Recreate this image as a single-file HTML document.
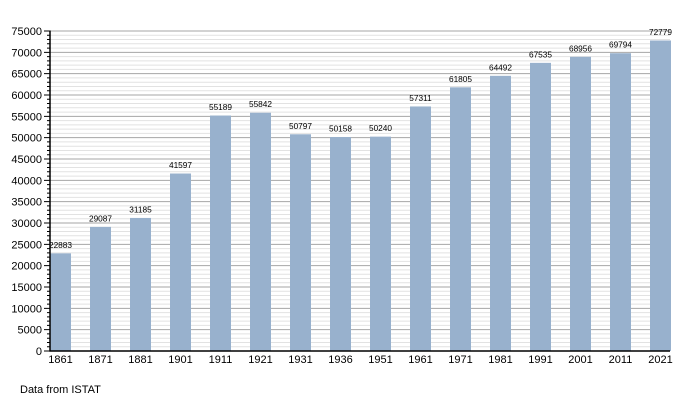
<!DOCTYPE html>
<html>
<head>
<meta charset="utf-8">
<style>
html,body{margin:0;padding:0;background:#fff;}
svg{display:block;}
text{font-family:"Liberation Sans",Arial,sans-serif;fill:#000;}
</style>
</head>
<body>
<svg width="700" height="400" viewBox="0 0 700 400" xmlns="http://www.w3.org/2000/svg">
<!-- minor gridlines -->
<path stroke="#e2e2e2" stroke-width="1" fill="none" d="
M50 346.733H670 M50 342.467H670 M50 338.2H670 M50 333.933H670
M50 325.4H670 M50 321.133H670 M50 316.867H670 M50 312.6H670
M50 304.067H670 M50 299.8H670 M50 295.533H670 M50 291.267H670
M50 282.733H670 M50 278.467H670 M50 274.2H670 M50 269.933H670
M50 261.4H670 M50 257.133H670 M50 252.867H670 M50 248.6H670
M50 240.067H670 M50 235.8H670 M50 231.533H670 M50 227.267H670
M50 218.733H670 M50 214.467H670 M50 210.2H670 M50 205.933H670
M50 197.4H670 M50 193.133H670 M50 188.867H670 M50 184.6H670
M50 176.067H670 M50 171.8H670 M50 167.533H670 M50 163.267H670
M50 154.733H670 M50 150.467H670 M50 146.2H670 M50 141.933H670
M50 133.4H670 M50 129.133H670 M50 124.867H670 M50 120.6H670
M50 112.067H670 M50 107.8H670 M50 103.533H670 M50 99.267H670
M50 90.733H670 M50 86.467H670 M50 82.2H670 M50 77.933H670
M50 69.4H670 M50 65.133H670 M50 60.867H670 M50 56.6H670
M50 48.067H670 M50 43.8H670 M50 39.533H670 M50 35.267H670"/>
<!-- major gridlines -->
<path stroke="#a6a6a6" stroke-width="1" fill="none" d="
M50 329.667H670 M50 308.333H670 M50 287H670 M50 265.667H670 M50 244.333H670
M50 223H670 M50 201.667H670 M50 180.333H670 M50 159H670 M50 137.667H670
M50 116.333H670 M50 95H670 M50 73.667H670 M50 52.333H670 M50 31H670"/>

<!-- bars -->
<g fill="#98b1cd">
<rect x="50" y="253.37" width="21" height="97.63"/>
<rect x="90" y="226.90" width="21" height="124.10"/>
<rect x="130" y="217.94" width="21" height="133.06"/>
<rect x="170" y="173.52" width="21" height="177.48"/>
<rect x="210" y="115.53" width="21" height="235.47"/>
<rect x="250" y="112.74" width="21" height="238.26"/>
<rect x="290" y="134.27" width="21" height="216.73"/>
<rect x="330" y="136.99" width="21" height="214.01"/>
<rect x="370" y="136.64" width="21" height="214.36"/>
<rect x="410" y="106.47" width="21" height="244.53"/>
<rect x="450" y="87.30" width="21" height="263.70"/>
<rect x="490" y="75.83" width="21" height="275.17"/>
<rect x="530" y="62.85" width="21" height="288.15"/>
<rect x="570" y="56.79" width="21" height="294.21"/>
<rect x="610" y="53.21" width="21" height="297.79"/>
<rect x="650" y="40.48" width="21" height="310.52"/>
</g>

<!-- value labels -->
<g font-size="8.3" text-anchor="middle">
<text x="60.5" y="247.9">22883</text>
<text x="100.5" y="221.4">29087</text>
<text x="140.5" y="212.4">31185</text>
<text x="180.5" y="168.0">41597</text>
<text x="220.5" y="110.0">55189</text>
<text x="260.5" y="107.2">55842</text>
<text x="300.5" y="128.8">50797</text>
<text x="340.5" y="131.5">50158</text>
<text x="380.5" y="131.1">50240</text>
<text x="420.5" y="101.0">57311</text>
<text x="460.5" y="81.8">61805</text>
<text x="500.5" y="70.3">64492</text>
<text x="540.5" y="57.4">67535</text>
<text x="580.5" y="51.3">68956</text>
<text x="620.5" y="47.7">69794</text>
<text x="660.5" y="35.0">72779</text>
</g>

<!-- axes -->
<path stroke="#000" stroke-width="1.5" fill="none" d="M50 30.5V351.5 M49.3 351H670"/>
<!-- minor ticks -->
<path stroke="#000" stroke-width="1" fill="none" d="
M47 346.733H50 M47 342.467H50 M47 338.2H50 M47 333.933H50
M47 325.4H50 M47 321.133H50 M47 316.867H50 M47 312.6H50
M47 304.067H50 M47 299.8H50 M47 295.533H50 M47 291.267H50
M47 282.733H50 M47 278.467H50 M47 274.2H50 M47 269.933H50
M47 261.4H50 M47 257.133H50 M47 252.867H50 M47 248.6H50
M47 240.067H50 M47 235.8H50 M47 231.533H50 M47 227.267H50
M47 218.733H50 M47 214.467H50 M47 210.2H50 M47 205.933H50
M47 197.4H50 M47 193.133H50 M47 188.867H50 M47 184.6H50
M47 176.067H50 M47 171.8H50 M47 167.533H50 M47 163.267H50
M47 154.733H50 M47 150.467H50 M47 146.2H50 M47 141.933H50
M47 133.4H50 M47 129.133H50 M47 124.867H50 M47 120.6H50
M47 112.067H50 M47 107.8H50 M47 103.533H50 M47 99.267H50
M47 90.733H50 M47 86.467H50 M47 82.2H50 M47 77.933H50
M47 69.4H50 M47 65.133H50 M47 60.867H50 M47 56.6H50
M47 48.067H50 M47 43.8H50 M47 39.533H50 M47 35.267H50"/>
<!-- major ticks -->
<path stroke="#000" stroke-width="1" fill="none" d="
M44 351H50 M44 329.667H50 M44 308.333H50 M44 287H50 M44 265.667H50 M44 244.333H50
M44 223H50 M44 201.667H50 M44 180.333H50 M44 159H50 M44 137.667H50
M44 116.333H50 M44 95H50 M44 73.667H50 M44 52.333H50 M44 31H50"/>

<!-- y labels -->
<g font-size="11" text-anchor="end">
<text x="42" y="355">0</text>
<text x="42" y="333.7">5000</text>
<text x="42" y="312.3">10000</text>
<text x="42" y="291">15000</text>
<text x="42" y="269.7">20000</text>
<text x="42" y="248.3">25000</text>
<text x="42" y="227">30000</text>
<text x="42" y="205.7">35000</text>
<text x="42" y="184.3">40000</text>
<text x="42" y="163">45000</text>
<text x="42" y="141.7">50000</text>
<text x="42" y="120.3">55000</text>
<text x="42" y="99">60000</text>
<text x="42" y="77.7">65000</text>
<text x="42" y="56.3">70000</text>
<text x="42" y="35">75000</text>
</g>

<!-- x labels -->
<g font-size="11" text-anchor="middle">
<text x="60.5" y="363">1861</text>
<text x="100.5" y="363">1871</text>
<text x="140.5" y="363">1881</text>
<text x="180.5" y="363">1901</text>
<text x="220.5" y="363">1911</text>
<text x="260.5" y="363">1921</text>
<text x="300.5" y="363">1931</text>
<text x="340.5" y="363">1936</text>
<text x="380.5" y="363">1951</text>
<text x="420.5" y="363">1961</text>
<text x="460.5" y="363">1971</text>
<text x="500.5" y="363">1981</text>
<text x="540.5" y="363">1991</text>
<text x="580.5" y="363">2001</text>
<text x="620.5" y="363">2011</text>
<text x="660.5" y="363">2021</text>
</g>

<text x="20" y="393" font-size="11">Data from ISTAT</text>
</svg>
</body>
</html>
